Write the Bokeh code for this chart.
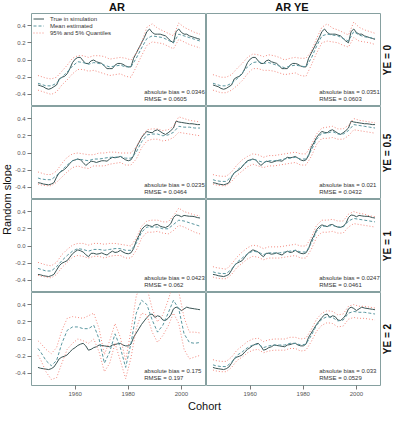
import numpy as np
from bokeh.plotting import figure
from bokeh.models import Range1d, LinearAxis, FixedTicker, PrintfTickFormatter, Legend, LegendItem
from bokeh.layouts import row, column
from bokeh.embed import file_html
from bokeh.resources import INLINE
from bokeh.core.properties import value

# ---------------- data ----------------
YEARS = list(range(1946, 2008))                     # yearly, true curves
Q_YEARS = [1946] + list(range(1947, 2008, 2))       # estimated mean / quantiles

TRUE_YE0 = [-0.29,-0.30,-0.31,-0.33,-0.34,-0.33,-0.31,-0.29,-0.22,-0.20,
            -0.19,-0.16,-0.10,-0.03,0.01,0.03,0.03,-0.01,-0.04,-0.04,
            -0.01,0.00,-0.02,-0.03,-0.04,-0.07,-0.10,-0.10,-0.10,-0.06,
            -0.04,-0.04,-0.05,-0.07,-0.08,-0.08,0.02,0.08,0.14,0.20,
            0.26,0.33,0.36,0.32,0.30,0.30,0.30,0.29,0.28,0.25,
            0.22,0.20,0.33,0.36,0.32,0.30,0.30,0.28,0.27,0.26,
            0.25,0.24]
TRUE_YE05 = [-0.345,-0.35,-0.36,-0.365,-0.37,-0.36,-0.345,-0.28,-0.23,-0.21,
             -0.19,-0.16,-0.12,-0.09,-0.08,-0.07,-0.08,-0.11,-0.145,-0.12,
             -0.095,-0.10,-0.11,-0.10,-0.09,-0.09,-0.095,-0.07,-0.05,-0.055,
             -0.05,-0.04,-0.06,-0.08,-0.09,-0.08,-0.03,0.065,0.12,0.18,
             0.22,0.25,0.24,0.235,0.26,0.27,0.25,0.23,0.215,0.235,
             0.26,0.29,0.37,0.36,0.355,0.35,0.345,0.34,0.34,0.335,
             0.33,0.33]
TRUE_YE1 = [-0.33,-0.335,-0.345,-0.35,-0.355,-0.345,-0.33,-0.28,-0.23,-0.20,
            -0.185,-0.17,-0.13,-0.09,-0.065,-0.045,-0.055,-0.07,-0.10,-0.125,
            -0.085,-0.085,-0.095,-0.09,-0.08,-0.095,-0.105,-0.08,-0.06,-0.075,
            -0.07,-0.05,-0.07,-0.085,-0.09,-0.08,-0.03,0.06,0.12,0.19,
            0.225,0.245,0.235,0.225,0.245,0.25,0.23,0.22,0.215,0.23,
            0.26,0.33,0.36,0.355,0.34,0.355,0.35,0.345,0.345,0.34,
            0.33,0.325]
TRUE_YE2 = [-0.33,-0.34,-0.345,-0.35,-0.355,-0.345,-0.325,-0.28,-0.23,-0.21,
            -0.20,-0.185,-0.15,-0.12,-0.10,-0.075,-0.06,-0.05,-0.08,-0.13,
            -0.12,-0.10,-0.09,-0.07,-0.075,-0.08,-0.085,-0.09,-0.07,-0.065,
            -0.055,-0.05,-0.07,-0.08,-0.08,-0.06,0.02,0.07,0.12,0.17,
            0.21,0.25,0.28,0.29,0.25,0.27,0.26,0.22,0.215,0.24,
            0.28,0.35,0.37,0.355,0.33,0.35,0.37,0.36,0.355,0.35,
            0.345,0.34]

MEAN_AR_YE0 = [-0.27,-0.28,-0.30,-0.30,-0.27,-0.20,-0.14,-0.07,
               -0.02,-0.03,-0.05,-0.03,-0.04,-0.06,-0.08,-0.07,
               -0.06,-0.08,-0.08, 0.02, 0.14, 0.25, 0.28, 0.27,
                0.26, 0.23, 0.20, 0.30, 0.28, 0.26, 0.24, 0.22]
Q95_AR_YE0 = [-0.18,-0.19,-0.21,-0.22,-0.20,-0.13,-0.06, 0.02,
               0.05, 0.05, 0.03, 0.05, 0.05, 0.04, 0.01, 0.02,
               0.03, 0.02, 0.00, 0.08, 0.20, 0.38, 0.42, 0.37,
               0.34, 0.31, 0.28, 0.43, 0.38, 0.35, 0.32, 0.30]
Q05_AR_YE0 = [-0.35,-0.36,-0.38,-0.40,-0.37,-0.29,-0.23,-0.16,
              -0.11,-0.11,-0.13,-0.12,-0.14,-0.16,-0.18,-0.17,
              -0.16,-0.19,-0.20,-0.08, 0.05, 0.17, 0.21, 0.20,
               0.19, 0.16, 0.13, 0.24, 0.21, 0.18, 0.16, 0.14]

MEAN_ARYE_YE0 = [-0.27,-0.28,-0.30,-0.30,-0.27,-0.22,-0.15,-0.08,
                 -0.03,-0.02,-0.04,-0.03,-0.05,-0.07,-0.09,-0.07,
                 -0.06,-0.07,-0.08, 0.02, 0.16, 0.28, 0.30, 0.29,
                  0.28, 0.25, 0.22, 0.33, 0.29, 0.27, 0.26, 0.25]
Q95_ARYE_YE0 = [-0.17,-0.18,-0.20,-0.20,-0.17,-0.10,-0.04, 0.03,
                 0.07, 0.06, 0.04, 0.06, 0.05, 0.03, 0.00, 0.02,
                 0.03, 0.02, 0.02, 0.10, 0.25, 0.38, 0.42, 0.37,
                 0.35, 0.32, 0.29, 0.44, 0.38, 0.35, 0.33, 0.31]
Q05_ARYE_YE0 = [-0.35,-0.36,-0.38,-0.38,-0.35,-0.30,-0.24,-0.16,
                -0.10,-0.10,-0.12,-0.12,-0.13,-0.15,-0.17,-0.16,
                -0.15,-0.18,-0.19,-0.06, 0.08, 0.20, 0.22, 0.21,
                 0.20, 0.17, 0.15, 0.26, 0.22, 0.21, 0.20, 0.18]

MEAN_AR_YE05 = [-0.29,-0.30,-0.31,-0.31,-0.26,-0.20,-0.14,-0.09,
                -0.07,-0.08,-0.09,-0.07,-0.07,-0.06,-0.05,-0.05,
                -0.04,-0.06,-0.06, 0.01, 0.13, 0.21, 0.22, 0.22,
                 0.20, 0.21, 0.24, 0.31, 0.30, 0.30, 0.29, 0.29]
Q95_AR_YE05 = [-0.22,-0.23,-0.25,-0.25,-0.21,-0.12,-0.05,-0.01,
                0.00,-0.01,-0.02,-0.02, 0.00, 0.00, 0.01, 0.01,
                0.00, 0.00, 0.00, 0.07, 0.19, 0.27, 0.28, 0.28,
                0.26, 0.27, 0.31, 0.42, 0.40, 0.38, 0.37, 0.36]
Q05_AR_YE05 = [-0.36,-0.37,-0.38,-0.38,-0.34,-0.28,-0.22,-0.17,
               -0.15,-0.17,-0.18,-0.15,-0.15,-0.15,-0.13,-0.12,
               -0.11,-0.14,-0.14,-0.07, 0.06, 0.14, 0.16, 0.16,
                0.14, 0.15, 0.18, 0.24, 0.23, 0.22, 0.21, 0.20]

MEAN_ARYE_YE05 = [-0.31,-0.32,-0.33,-0.33,-0.27,-0.20,-0.15,-0.10,
                  -0.07,-0.09,-0.11,-0.09,-0.09,-0.08,-0.07,-0.06,
                  -0.05,-0.07,-0.07, 0.03, 0.16, 0.23, 0.23, 0.25,
                   0.22, 0.22, 0.26, 0.33, 0.32, 0.31, 0.30, 0.29]
Q95_ARYE_YE05 = [-0.25,-0.26,-0.27,-0.27,-0.22,-0.14,-0.08,-0.04,
                 -0.01,-0.02,-0.05,-0.03,-0.03,-0.02,-0.01, 0.00,
                  0.01,-0.01,-0.01, 0.09, 0.22, 0.29, 0.30, 0.31,
                  0.28, 0.28, 0.32, 0.40, 0.38, 0.37, 0.36, 0.35]
Q05_ARYE_YE05 = [-0.36,-0.37,-0.38,-0.38,-0.33,-0.26,-0.21,-0.16,
                 -0.13,-0.15,-0.17,-0.15,-0.15,-0.14,-0.13,-0.12,
                 -0.11,-0.14,-0.14,-0.04, 0.10, 0.17, 0.17, 0.18,
                  0.16, 0.16, 0.20, 0.27, 0.26, 0.25, 0.24, 0.23]

MEAN_AR_YE1 = [-0.26,-0.27,-0.29,-0.29,-0.24,-0.17,-0.11,-0.06,
               -0.03,-0.04,-0.06,-0.04,-0.04,-0.05,-0.04,-0.03,
               -0.03,-0.05,-0.05, 0.03, 0.16, 0.22, 0.22, 0.22,
                0.20, 0.20, 0.25, 0.30, 0.29, 0.27, 0.25, 0.23]
Q95_AR_YE1 = [-0.19,-0.20,-0.22,-0.23,-0.19,-0.10,-0.04, 0.01,
               0.03, 0.03, 0.01, 0.03, 0.03, 0.02, 0.03, 0.03,
               0.02, 0.01, 0.00, 0.09, 0.23, 0.29, 0.30, 0.30,
               0.28, 0.28, 0.35, 0.44, 0.40, 0.38, 0.36, 0.35]
Q05_AR_YE1 = [-0.34,-0.35,-0.36,-0.37,-0.33,-0.25,-0.19,-0.13,
              -0.11,-0.12,-0.14,-0.12,-0.12,-0.14,-0.12,-0.11,
              -0.11,-0.14,-0.14,-0.05, 0.09, 0.16, 0.16, 0.17,
               0.15, 0.14, 0.18, 0.24, 0.22, 0.19, 0.16, 0.14]

MEAN_ARYE_YE1 = [-0.30,-0.31,-0.32,-0.32,-0.27,-0.19,-0.14,-0.09,
                 -0.06,-0.07,-0.10,-0.08,-0.08,-0.08,-0.07,-0.06,
                 -0.05,-0.07,-0.07, 0.03, 0.17, 0.23, 0.23, 0.24,
                  0.22, 0.22, 0.29, 0.32, 0.31, 0.30, 0.29, 0.28]
Q95_ARYE_YE1 = [-0.24,-0.25,-0.26,-0.27,-0.21,-0.13,-0.07,-0.02,
                 0.01, 0.00,-0.03,-0.01,-0.01,-0.01, 0.00, 0.01,
                 0.02, 0.00, 0.00, 0.10, 0.24, 0.30, 0.30, 0.31,
                 0.29, 0.29, 0.37, 0.40, 0.38, 0.37, 0.35, 0.34]
Q05_ARYE_YE1 = [-0.36,-0.37,-0.38,-0.38,-0.33,-0.25,-0.20,-0.15,
                -0.12,-0.13,-0.16,-0.14,-0.14,-0.14,-0.13,-0.12,
                -0.11,-0.14,-0.14,-0.04, 0.10, 0.16, 0.16, 0.17,
                 0.15, 0.15, 0.22, 0.26, 0.25, 0.24, 0.23, 0.22]

MEAN_AR_YE2 = [-0.11,-0.15,-0.25,-0.31,-0.25,-0.05, 0.10, 0.14,
                0.14, 0.12, 0.12, 0.16, 0.00,-0.28,-0.15, 0.06,
               -0.10,-0.33,-0.05, 0.30, 0.45, 0.40, 0.22, 0.08,
                0.16, 0.30, 0.45, 0.35, 0.06,-0.04,-0.05,-0.04]
Q95_AR_YE2 = [-0.02,-0.05,-0.12,-0.17,-0.10, 0.10, 0.24, 0.26,
               0.25, 0.24, 0.27, 0.30, 0.12,-0.18,-0.02, 0.18,
               0.02,-0.25, 0.10, 0.50, 0.65, 0.60, 0.35, 0.20,
               0.28, 0.45, 0.65, 0.55, 0.25, 0.08, 0.08, 0.07]
Q05_AR_YE2 = [-0.19,-0.24,-0.38,-0.47,-0.45,-0.28,-0.12,-0.05,
               0.00,-0.02,-0.05, 0.00,-0.15,-0.38,-0.28,-0.05,
              -0.25,-0.46,-0.22, 0.12, 0.30, 0.28, 0.08,-0.04,
               0.04, 0.15, 0.30, 0.18,-0.12,-0.23,-0.21,-0.19]

MEAN_ARYE_YE2 = [-0.30,-0.31,-0.32,-0.32,-0.27,-0.19,-0.15,-0.10,
                 -0.07,-0.06,-0.10,-0.08,-0.07,-0.07,-0.07,-0.05,
                 -0.05,-0.07,-0.06, 0.04, 0.16, 0.23, 0.26, 0.25,
                  0.21, 0.22, 0.30, 0.32, 0.31, 0.31, 0.30, 0.29]
Q95_ARYE_YE2 = [-0.24,-0.25,-0.26,-0.26,-0.21,-0.13,-0.08,-0.03,
                 0.00, 0.01,-0.03,-0.01, 0.00, 0.00, 0.00, 0.02,
                 0.02, 0.00, 0.01, 0.11, 0.23, 0.30, 0.33, 0.32,
                 0.28, 0.29, 0.38, 0.40, 0.38, 0.38, 0.37, 0.36]
Q05_ARYE_YE2 = [-0.36,-0.37,-0.38,-0.38,-0.33,-0.25,-0.21,-0.16,
                -0.13,-0.12,-0.16,-0.14,-0.13,-0.13,-0.13,-0.11,
                -0.11,-0.14,-0.13,-0.03, 0.09, 0.16, 0.19, 0.18,
                 0.14, 0.15, 0.23, 0.25, 0.24, 0.24, 0.23, 0.22]

BIAS_AR = ["0.0346", "0.0235", "0.0423", "0.175"]
RMSE_AR = ["0.0605", "0.0464", "0.062", "0.197"]
BIAS_ARYE = ["0.0351", "0.021", "0.0247", "0.033"]
RMSE_ARYE = ["0.0603", "0.0432", "0.0461", "0.0529"]

COL_TITLES = ["AR", "AR YE"]
ROW_LABELS = ["YE = 0", "YE = 0.5", "YE = 1", "YE = 2"]
LEGEND_LABELS = ["True in simulation", "Mean estimated", "95% and 5% Quantiles"]
Y_TICKS = [-0.4, -0.2, 0.0, 0.2, 0.4]
X_TICKS = [1960, 1980, 2000]
X_LABEL = "Cohort"
Y_LABEL = "Random slope"

TRUES = [TRUE_YE0, TRUE_YE05, TRUE_YE1, TRUE_YE2]
AR_SETS = [(MEAN_AR_YE0, Q95_AR_YE0, Q05_AR_YE0), (MEAN_AR_YE05, Q95_AR_YE05, Q05_AR_YE05),
           (MEAN_AR_YE1, Q95_AR_YE1, Q05_AR_YE1), (MEAN_AR_YE2, Q95_AR_YE2, Q05_AR_YE2)]
ARYE_SETS = [(MEAN_ARYE_YE0, Q95_ARYE_YE0, Q05_ARYE_YE0), (MEAN_ARYE_YE05, Q95_ARYE_YE05, Q05_ARYE_YE05),
             (MEAN_ARYE_YE1, Q95_ARYE_YE1, Q05_ARYE_YE1), (MEAN_ARYE_YE2, Q95_ARYE_YE2, Q05_ARYE_YE2)]

# ---------------- style / layout ----------------
FONT = "Liberation Sans"
C_TRUE = "#3a5454"
C_MEAN = "#5a97a0"
C_Q = "#f48a7f"
C_BOX = "#86a0a0"
FW, FH = 175, 93
LB, BB = 17, 13
YLAB_W, YE_W, TOP_H, XLAB_H = 12, 11, 13, 15
span = YEARS[-1] - YEARS[0]
X_LIM = (YEARS[0] - 0.04 * span, YEARS[-1] + 0.04 * span)
Y_LIM = (-0.54, 0.54)
STAT_X = 1986
STAT_Y = [-0.37, -0.45]


def blank(w, h):
    f = figure(width=w, height=h, x_range=Range1d(0, w), y_range=Range1d(0, h),
               output_backend="svg", toolbar_location=None,
               x_axis_location=None, y_axis_location=None, min_border=0, title=None)
    f.outline_line_color = None
    f.xgrid.visible = False
    f.ygrid.visible = False
    return f


def style_axis(ax):
    ax.axis_line_color = None
    ax.major_tick_out = 4
    ax.major_tick_in = 0
    ax.minor_tick_out = 0
    ax.minor_tick_in = 0
    ax.major_tick_line_color = "#777777"
    ax.major_label_text_font = FONT
    ax.major_label_text_font_size = "6px"
    ax.major_label_text_color = "#555555"
    ax.major_label_standoff = 2


def make_panel(ci, ri, true_y, sets, bias, rmse):
    mean_y, hi_y, lo_y = sets
    p = figure(frame_width=FW, frame_height=FH, x_range=Range1d(*X_LIM), y_range=Range1d(*Y_LIM),
               output_backend="svg", toolbar_location=None,
               x_axis_location=None, y_axis_location=None,
               min_border_left=LB if ci == 0 else 0, min_border_right=0, min_border_top=0,
               min_border_bottom=BB if ri == 3 else 0, title=None)
    p.xgrid.visible = False
    p.ygrid.visible = False
    p.outline_line_color = C_BOX
    p.outline_line_width = 1
    if ci == 0:
        ax = LinearAxis(ticker=FixedTicker(ticks=Y_TICKS), formatter=PrintfTickFormatter(format="%.1f"))
        style_axis(ax)
        p.add_layout(ax, "left")
    if ri == 3:
        ax = LinearAxis(ticker=FixedTicker(ticks=X_TICKS), formatter=PrintfTickFormatter(format="%d"))
        style_axis(ax)
        p.add_layout(ax, "below")
    r_true = p.line(YEARS, true_y, line_color=C_TRUE, line_width=1)
    r_mean = p.line(Q_YEARS, mean_y, line_color=C_MEAN, line_width=1, line_dash="3 2")
    r_hi = p.line(Q_YEARS, hi_y, line_color=C_Q, line_width=1, line_dash="1 2")
    p.line(Q_YEARS, lo_y, line_color=C_Q, line_width=1, line_dash="1 2")
    p.text(x=[STAT_X, STAT_X], y=STAT_Y,
           text=["absolute bias = " + bias, "RMSE = " + rmse],
           text_font=value(FONT), text_font_size="6px", text_color="#333333",
           text_align="left", text_baseline="middle")
    if ci == 0 and ri == 0:
        leg = Legend(items=[LegendItem(label=LEGEND_LABELS[0], renderers=[r_true]),
                            LegendItem(label=LEGEND_LABELS[1], renderers=[r_mean]),
                            LegendItem(label=LEGEND_LABELS[2], renderers=[r_hi])],
                     location="top_left", label_text_font=FONT, label_text_font_size="6px",
                     label_text_color="#333333", glyph_width=11, glyph_height=7, label_height=7,
                     spacing=0, padding=3, margin=2, border_line_color=None,
                     background_fill_alpha=0, label_standoff=6)
        p.add_layout(leg)
    return p


rows = []
for ri in range(4):
    pl = make_panel(0, ri, TRUES[ri], AR_SETS[ri], BIAS_AR[ri], RMSE_AR[ri])
    pr = make_panel(1, ri, TRUES[ri], ARYE_SETS[ri], BIAS_ARYE[ri], RMSE_ARYE[ri])
    rows.append(row(pl, pr, spacing=0))
grid = column(*rows, spacing=0)

TOTAL_W = YLAB_W + LB + 2 * FW + YE_W
GRID_H = 4 * FH + BB

top = blank(TOTAL_W, TOP_H)
top.text(x=[YLAB_W + LB + FW / 2, YLAB_W + LB + FW + FW / 2], y=[TOP_H / 2, TOP_H / 2], text=COL_TITLES,
         text_font=value(FONT), text_font_size="11px", text_font_style="bold", text_color="#111111",
         text_align="center", text_baseline="middle")

ylab = blank(YLAB_W, GRID_H)
ylab.text(x=[YLAB_W / 2], y=[GRID_H - 2 * FH], text=[Y_LABEL], angle=np.pi / 2,
          text_font=value(FONT), text_font_size="11px", text_color="#111111",
          text_align="center", text_baseline="middle")

yel = blank(YE_W, GRID_H)
yel.text(x=[YE_W / 2] * 4, y=[GRID_H - (i + 0.5) * FH for i in range(4)], text=ROW_LABELS, angle=np.pi / 2,
         text_font=value(FONT), text_font_size="10px", text_font_style="bold", text_color="#111111",
         text_align="center", text_baseline="middle")

xlab = blank(TOTAL_W, XLAB_H)
xlab.text(x=[YLAB_W + LB + FW], y=[XLAB_H / 2], text=[X_LABEL],
          text_font=value(FONT), text_font_size="11px", text_color="#111111",
          text_align="center", text_baseline="middle")

layout = column(top, row(ylab, grid, yel, spacing=0), xlab, spacing=0)
open("out.html", "w").write(file_html(layout, INLINE))
